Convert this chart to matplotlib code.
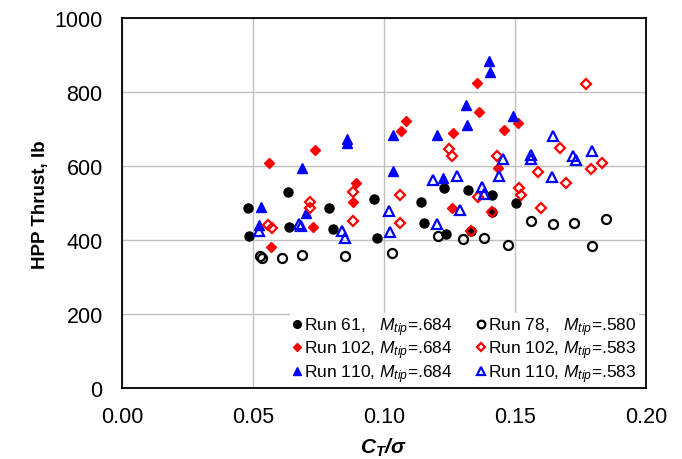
import numpy as np
import matplotlib
matplotlib.use('Agg')
from matplotlib import pyplot as plt

plt.rcParams['font.family'] = ['Liberation Sans', 'DejaVu Sans']
plt.rcParams['mathtext.fontset'] = 'custom'
plt.rcParams['mathtext.rm'] = 'Liberation Sans'
plt.rcParams['mathtext.it'] = 'Liberation Sans:italic'
plt.rcParams['mathtext.bf'] = 'Liberation Sans:bold:italic'

# Run 61, Mtip=.684 (实心黑圆)
run61_x = [0.0482, 0.0486, 0.0632, 0.0637, 0.0791, 0.0807, 0.0963, 0.0972, 0.1143,
           0.1153, 0.1230, 0.1237, 0.1319, 0.1331, 0.1411, 0.1413, 0.1504]
run61_y = [488, 411, 531, 435, 486, 431, 512, 406, 504, 447, 540, 417, 536, 424, 523, 477, 500]

# Run 78, Mtip=.580 (空心黑圆)
run78_x = [0.0527, 0.0536, 0.0612, 0.0686, 0.0851, 0.1031, 0.1207, 0.1302, 0.1383,
           0.1474, 0.1563, 0.1646, 0.1725, 0.1796, 0.1846]
run78_y = [356, 351, 351, 360, 358, 365, 412, 403, 406, 388, 451, 443, 447, 385, 458]

# Run 102, Mtip=.684 (实心红菱形)
run102a_x = [0.0562, 0.0567, 0.0728, 0.0737, 0.0883, 0.0892, 0.1065, 0.1085, 0.1258,
             0.1265, 0.1354, 0.1362, 0.1436, 0.1458, 0.1513]
run102a_y = [608, 383, 435, 644, 503, 555, 696, 723, 486, 689, 824, 746, 595, 699, 716]

# Run 102, Mtip=.583 (空心红菱形)
run102b_x = [0.0558, 0.0574, 0.0718, 0.0718, 0.0883, 0.0883, 0.1061, 0.1061, 0.1249,
             0.1258, 0.1331, 0.1358, 0.1413, 0.1432, 0.1517, 0.1523, 0.1589, 0.1598,
             0.1674, 0.1695, 0.1771, 0.1790, 0.1833]
run102b_y = [442, 432, 503, 486, 530, 453, 523, 446, 647, 629, 424, 516, 477, 629,
             541, 521, 584, 486, 649, 554, 822, 593, 609]

# Run 110, Mtip=.684 (实心蓝三角)
run110a_x = [0.0529, 0.0524, 0.0686, 0.0701, 0.0857, 0.0857, 0.1033, 0.1036, 0.1204,
             0.1226, 0.1312, 0.1316, 0.1401, 0.1405, 0.1494]
run110a_y = [489, 441, 595, 474, 673, 663, 586, 685, 685, 568, 766, 712, 885, 856, 735]

# Run 110, Mtip=.583 (空心蓝三角)
run110b_x = [0.0524, 0.0676, 0.0682, 0.0838, 0.0853, 0.1020, 0.1023, 0.1188, 0.1201,
             0.1277, 0.1290, 0.1375, 0.1382, 0.1440, 0.1455, 0.1561, 0.1563, 0.1642,
             0.1644, 0.1720, 0.1735, 0.1796]
run110b_y = [426, 444, 438, 426, 406, 480, 421, 564, 444, 575, 483, 543, 525, 575,
             620, 620, 630, 572, 683, 629, 617, 642]

x_ticks = [0.00, 0.05, 0.10, 0.15, 0.20]
y_ticks = [0, 200, 400, 600, 800, 1000]

fig = plt.figure(figsize=(6.82, 4.6), dpi=100)
ax = fig.add_axes([0.179, 0.154, 0.768, 0.804])

h61, = ax.plot(run61_x, run61_y, 'o', color='black', ms=6.5, zorder=3)
h78, = ax.plot(run78_x, run78_y, 'o', mfc='none', mec='black', mew=1.6, ms=6.5, zorder=3)
h102a, = ax.plot(run102a_x, run102a_y, 'D', color='#FF0000', ms=5.2, zorder=3)
h102b, = ax.plot(run102b_x, run102b_y, 'D', mfc='none', mec='#FF0000', mew=1.6, ms=5.2, zorder=4)
h110a, = ax.plot(run110a_x, run110a_y, '^', color='#0000FF', ms=7.5, zorder=3)
h110b, = ax.plot(run110b_x, run110b_y, '^', mfc='none', mec='#0000FF', mew=1.6, ms=7.2, zorder=4)

ax.set_xlim(0, 0.20)
ax.set_ylim(0, 1000)
ax.set_xticks(x_ticks)
ax.set_yticks(y_ticks)
ax.set_xticklabels(['%.2f' % v for v in x_ticks])
ax.tick_params(length=0, labelsize=15.5)
ax.tick_params(axis='x', pad=13)
ax.tick_params(axis='y', pad=14)
ax.grid(True, color='#C0C0C0', linewidth=1.0, zorder=0)
ax.set_axisbelow(True)
for s in ax.spines.values():
    s.set_linewidth(1.3)
    s.set_color('black')

ax.set_ylabel('HPP Thrust, lb', fontsize=13.5, fontweight='bold', labelpad=4)
ax.set_xlabel(r'$\mathbf{C_T/\sigma}$', fontsize=15, labelpad=6)

labels = ['Run 61,   $M_{tip}$=.684', 'Run 102, $M_{tip}$=.684', 'Run 110, $M_{tip}$=.684',
          'Run 78,   $M_{tip}$=.580', 'Run 102, $M_{tip}$=.583', 'Run 110, $M_{tip}$=.583']
leg = ax.legend([h61, h102a, h110a, h78, h102b, h110b], labels, ncol=2, loc='lower right',
                bbox_to_anchor=(0.988, 0.0),
                fontsize=12.5, frameon=True, fancybox=False, framealpha=1, edgecolor='none',
                borderaxespad=0.05, handlelength=0.5, handletextpad=0.15, columnspacing=1.37,
                labelspacing=0.05, markerscale=0.85, borderpad=0.15)
leg.set_zorder(5)

fig.savefig('out.png', dpi=100)
